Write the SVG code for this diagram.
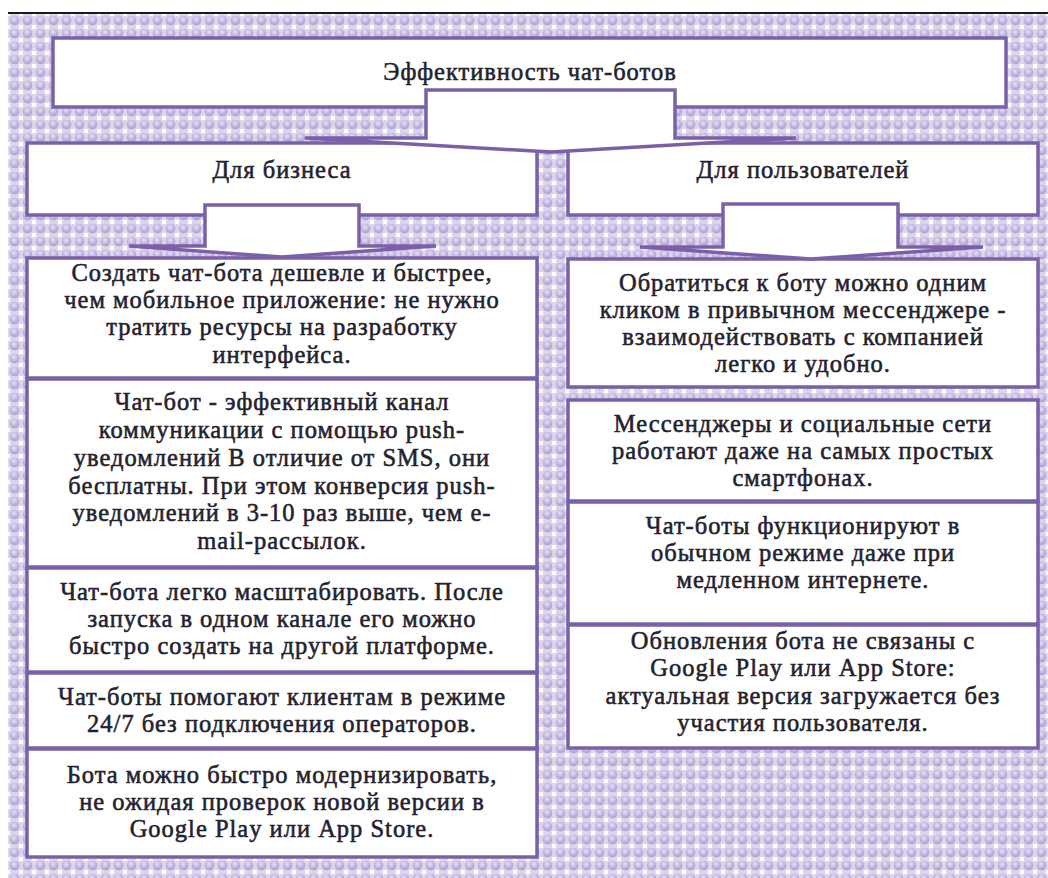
<svg xmlns="http://www.w3.org/2000/svg" width="1048" height="878" viewBox="0 0 1048 878">
  <defs>
    <radialGradient id="bub" cx="0.45" cy="0.35" r="0.65">
      <stop offset="0" stop-color="#e6e0f2"/>
      <stop offset="0.6" stop-color="#c0b3de"/>
      <stop offset="1" stop-color="#ad9fd0"/>
    </radialGradient>
    <pattern id="dots" x="8" y="14" width="13" height="13" patternUnits="userSpaceOnUse">
      <rect width="13" height="13" fill="#ddd5ec"/>
      <circle cx="6.5" cy="6.5" r="4.8" fill="url(#bub)"/>
      <rect x="-2" y="-2" width="4" height="4" fill="#ffffff"/>
      <rect x="11" y="-2" width="4" height="4" fill="#ffffff"/>
      <rect x="-2" y="11" width="4" height="4" fill="#ffffff"/>
      <rect x="11" y="11" width="4" height="4" fill="#ffffff"/>
    </pattern>
    <style>
      .box { fill: #ffffff; stroke: #7a60a8; stroke-width: 3.5; }
      .arrow { fill: #ffffff; stroke: #7a60a8; stroke-width: 3.5; stroke-linejoin: miter; }
      text { font-family: "Liberation Serif", "Times New Roman", serif; font-size: 24.5px; letter-spacing: 1px; fill: #24222e; stroke: #24222e; stroke-width: 0.55px; text-anchor: middle; }
    </style>
  </defs>

  <rect x="0" y="0" width="1048" height="878" fill="#ffffff"/>
  <rect x="8" y="14" width="1040" height="864" fill="url(#dots)"/>
  <line x1="8" y1="13" x2="1048" y2="13" stroke="#1a1a1a" stroke-width="2"/>

  <g id="title">
    <rect class="box" x="53" y="38" width="953" height="69"/>
    <text x="530" y="80">Эффективность чат-ботов</text>
  </g>

  <g id="business">
    <rect class="box" x="27" y="143" width="510" height="72"/>
    <text x="282" y="178">Для бизнеса</text>
  </g>

  <g id="users">
    <rect class="box" x="568" y="143" width="470" height="72"/>
    <text x="803" y="178">Для пользователей</text>
  </g>

  <g id="b1">
    <rect class="box" x="27" y="258" width="510" height="120"/>
    <text x="282" y="281">Создать чат-бота дешевле и быстрее,</text>
    <text x="282" y="308">чем мобильное приложение: не нужно</text>
    <text x="282" y="335">тратить ресурсы на разработку</text>
    <text x="282" y="363">интерфейса.</text>
  </g>

  <g id="b2">
    <rect class="box" x="27" y="379" width="510" height="188"/>
    <text x="282" y="410">Чат-бот - эффективный канал</text>
    <text x="282" y="438">коммуникации с помощью push-</text>
    <text x="282" y="466">уведомлений В отличие от SMS, они</text>
    <text x="282" y="494">бесплатны. При этом конверсия push-</text>
    <text x="282" y="521">уведомлений в 3-10 раз выше, чем e-</text>
    <text x="282" y="549">mail-рассылок.</text>
  </g>

  <g id="b3">
    <rect class="box" x="27" y="568" width="510" height="104"/>
    <text x="282" y="600">Чат-бота легко масштабировать. После</text>
    <text x="282" y="627">запуска в одном канале его можно</text>
    <text x="282" y="654">быстро создать на другой платформе.</text>
  </g>

  <g id="b4">
    <rect class="box" x="27" y="673" width="510" height="75"/>
    <text x="282" y="705">Чат-боты помогают клиентам в режиме</text>
    <text x="282" y="732">24/7 без подключения операторов.</text>
  </g>

  <g id="b5">
    <rect class="box" x="27" y="749" width="510" height="108"/>
    <text x="282" y="783">Бота можно быстро модернизировать,</text>
    <text x="282" y="810">не ожидая проверок новой версии в</text>
    <text x="282" y="837">Google Play или App Store.</text>
  </g>

  <g id="u1">
    <rect class="box" x="568" y="259" width="470" height="128"/>
    <text x="803" y="291">Обратиться к боту можно одним</text>
    <text x="803" y="318">кликом в привычном мессенджере -</text>
    <text x="803" y="345">взаимодействовать с компанией</text>
    <text x="803" y="372">легко и удобно.</text>
  </g>

  <g id="u2">
    <rect class="box" x="568" y="400" width="470" height="101"/>
    <text x="803" y="432">Мессенджеры и социальные сети</text>
    <text x="803" y="459">работают даже на самых простых</text>
    <text x="803" y="486">смартфонах.</text>
  </g>

  <g id="u3">
    <rect class="box" x="568" y="502" width="470" height="122"/>
    <text x="803" y="534">Чат-боты функционируют в</text>
    <text x="803" y="561">обычном режиме даже при</text>
    <text x="803" y="588">медленном интернете.</text>
  </g>

  <g id="u4">
    <rect class="box" x="568" y="625" width="470" height="123"/>
    <text x="803" y="649">Обновления бота не связаны с</text>
    <text x="803" y="676">Google Play или App Store:</text>
    <text x="803" y="704">актуальная версия загружается без</text>
    <text x="803" y="731">участия пользователя.</text>
  </g>

  <g id="connectors">
    <polygon class="arrow" points="426,90 675,90 675,138 796,138 551,152 305,138 426,138"/>
    <polygon class="arrow" points="205,205 359,205 359,246 436,246 282,257 129,246 205,246"/>
    <polygon class="arrow" points="723,204 898,204 898,247 983,247 811,259 640,247 723,247"/>
  </g>
</svg>
